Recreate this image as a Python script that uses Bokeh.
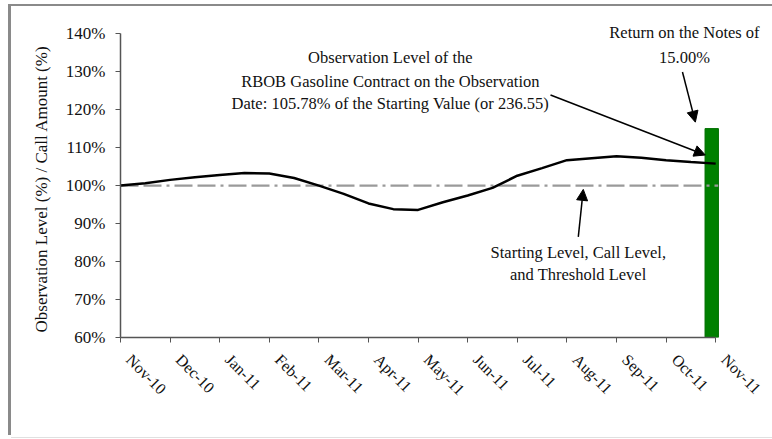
from bokeh.plotting import figure
from bokeh.models import Range1d, FixedTicker, Arrow, NormalHead, ColumnDataSource
from bokeh.core.properties import value
from bokeh.embed import file_html
from bokeh.resources import INLINE

# ---- data ----
month_labels = ["Nov-10", "Dec-10", "Jan-11", "Feb-11", "Mar-11", "Apr-11", "May-11",
                "Jun-11", "Jul-11", "Aug-11", "Sep-11", "Oct-11", "Nov-11"]
y_ticks = [60, 70, 80, 90, 100, 110, 120, 130, 140]
y_tick_labels = ["60%", "70%", "80%", "90%", "100%", "110%", "120%", "130%", "140%"]

# observation level path (months since Nov-10, % of starting value)
obs_month = [0, 0.5, 1, 1.5, 2, 2.5, 3, 3.5, 4, 4.5, 5, 5.5, 6, 6.5, 7, 7.5, 8,
             8.5, 9, 9.5, 10, 10.5, 11, 11.5, 12]
obs_level = [100.0, 100.6, 101.5, 102.2, 102.8, 103.3, 103.2, 102.0, 100.0, 97.8,
             95.3, 93.8, 93.6, 95.6, 97.4, 99.4, 102.6, 104.6, 106.7, 107.2, 107.7,
             107.3, 106.7, 106.2, 105.78]

# starting / call / threshold level
level_month = [0, 12.05]
level_value = [100, 100]

# return on the notes (bar)
bar_month = [11.92]
bar_top = [115.0]
bar_bottom = 60.0
bar_width = 0.27

FONT = "Liberation Serif"
NB = "\u00a0"

p = figure(width=766, height=431, output_backend="svg", toolbar_location=None,
           tools="",
           x_range=Range1d(0, 13.125), y_range=Range1d(60, 147.15),
           min_border_left=109, min_border_right=6, min_border_top=0,
           min_border_bottom=100)
p.styles = {"margin-left": "11px", "margin-top": "6px",
            "box-shadow": "-3px -2px 0 0 #8a8a8a, 0 1px 0 0 #e0e0e0"}
p.outline_line_color = None
p.grid.visible = False
p.background_fill_color = "white"
p.border_fill_color = "white"

# bar
p.vbar(x=bar_month, top=bar_top, bottom=bar_bottom, width=bar_width,
       fill_color="#008000", line_color="#007000", line_width=1)

# dashed level line
p.line(level_month, level_value, line_color="#9a9a9a", line_width=2.2,
       line_dash="18 5 18 5 3 5")

# observation line
p.line(obs_month, obs_level, line_color="black", line_width=2.5)

# axes
xa = p.xaxis[0]
xa.ticker = FixedTicker(ticks=list(range(len(month_labels))))
xa.major_label_overrides = {i: NB * 3 + lab for i, lab in enumerate(month_labels)}
xa.bounds = (0, 12)
xa.major_label_orientation = -0.785
xa.major_label_text_font = FONT
xa.major_label_text_font_size = "16px"
xa.major_label_text_color = "#111111"
xa.minor_tick_line_color = None
xa.major_tick_in = 0
xa.major_tick_out = 5
xa.axis_line_color = "#555555"
xa.major_tick_line_color = "#555555"
xa.axis_line_width = 1.5
xa.major_label_standoff = 6

ya = p.yaxis[0]
ya.ticker = FixedTicker(ticks=y_ticks)
ya.major_label_overrides = {t: l for t, l in zip(y_ticks, y_tick_labels)}
ya.bounds = (60, 140)
ya.major_label_text_font = FONT
ya.major_label_text_font_size = "17px"
ya.major_label_text_color = "#111111"
ya.minor_tick_line_color = None
ya.major_tick_in = 0
ya.major_tick_out = 5
ya.axis_line_color = "#555555"
ya.major_tick_line_color = "#555555"
ya.axis_line_width = 1.5
ya.major_label_standoff = 10
ya.axis_label = "Observation Level (%) / Call Amount (%)" + NB * 8
ya.axis_label_text_font = FONT
ya.axis_label_text_font_style = "normal"
ya.axis_label_text_font_size = "17px"
ya.axis_label_text_color = "#111111"
ya.axis_label_standoff = 12

# annotation texts
ann_x = [5.44, 5.44, 5.44, 11.37, 11.37, 9.23, 9.23]
ann_y = [133.85, 127.5, 121.5, 140.4, 133.85, 82.5, 76.5]
ann_text = ["Observation Level of the",
            "RBOB Gasoline Contract on the Observation",
            "Date: 105.78% of the Starting Value (or 236.55)",
            "Return on the Notes of",
            "15.00%",
            "Starting Level, Call Level,",
            "and Threshold Level"]
src = ColumnDataSource(dict(x=ann_x, y=ann_y, t=ann_text))
p.text(x="x", y="y", text="t", source=src, text_font=value(FONT),
       text_font_size="16.5px", text_align="center", text_baseline="middle",
       text_color="#111111")

# arrows
arrow_start_x = [8.67, 11.33, 9.23]
arrow_start_y = [123.85, 129.9, 86.5]
arrow_end_x = [11.79, 11.59, 9.33]
arrow_end_y = [108.05, 116.7, 99.0]
for sx, sy, ex, ey in zip(arrow_start_x, arrow_start_y, arrow_end_x, arrow_end_y):
    p.add_layout(Arrow(x_start=sx, y_start=sy, x_end=ex, y_end=ey,
                       line_color="black", line_width=1.5,
                       end=NormalHead(size=11, fill_color="black", line_color="black")))

open("out.html", "w").write(file_html(p, INLINE))
